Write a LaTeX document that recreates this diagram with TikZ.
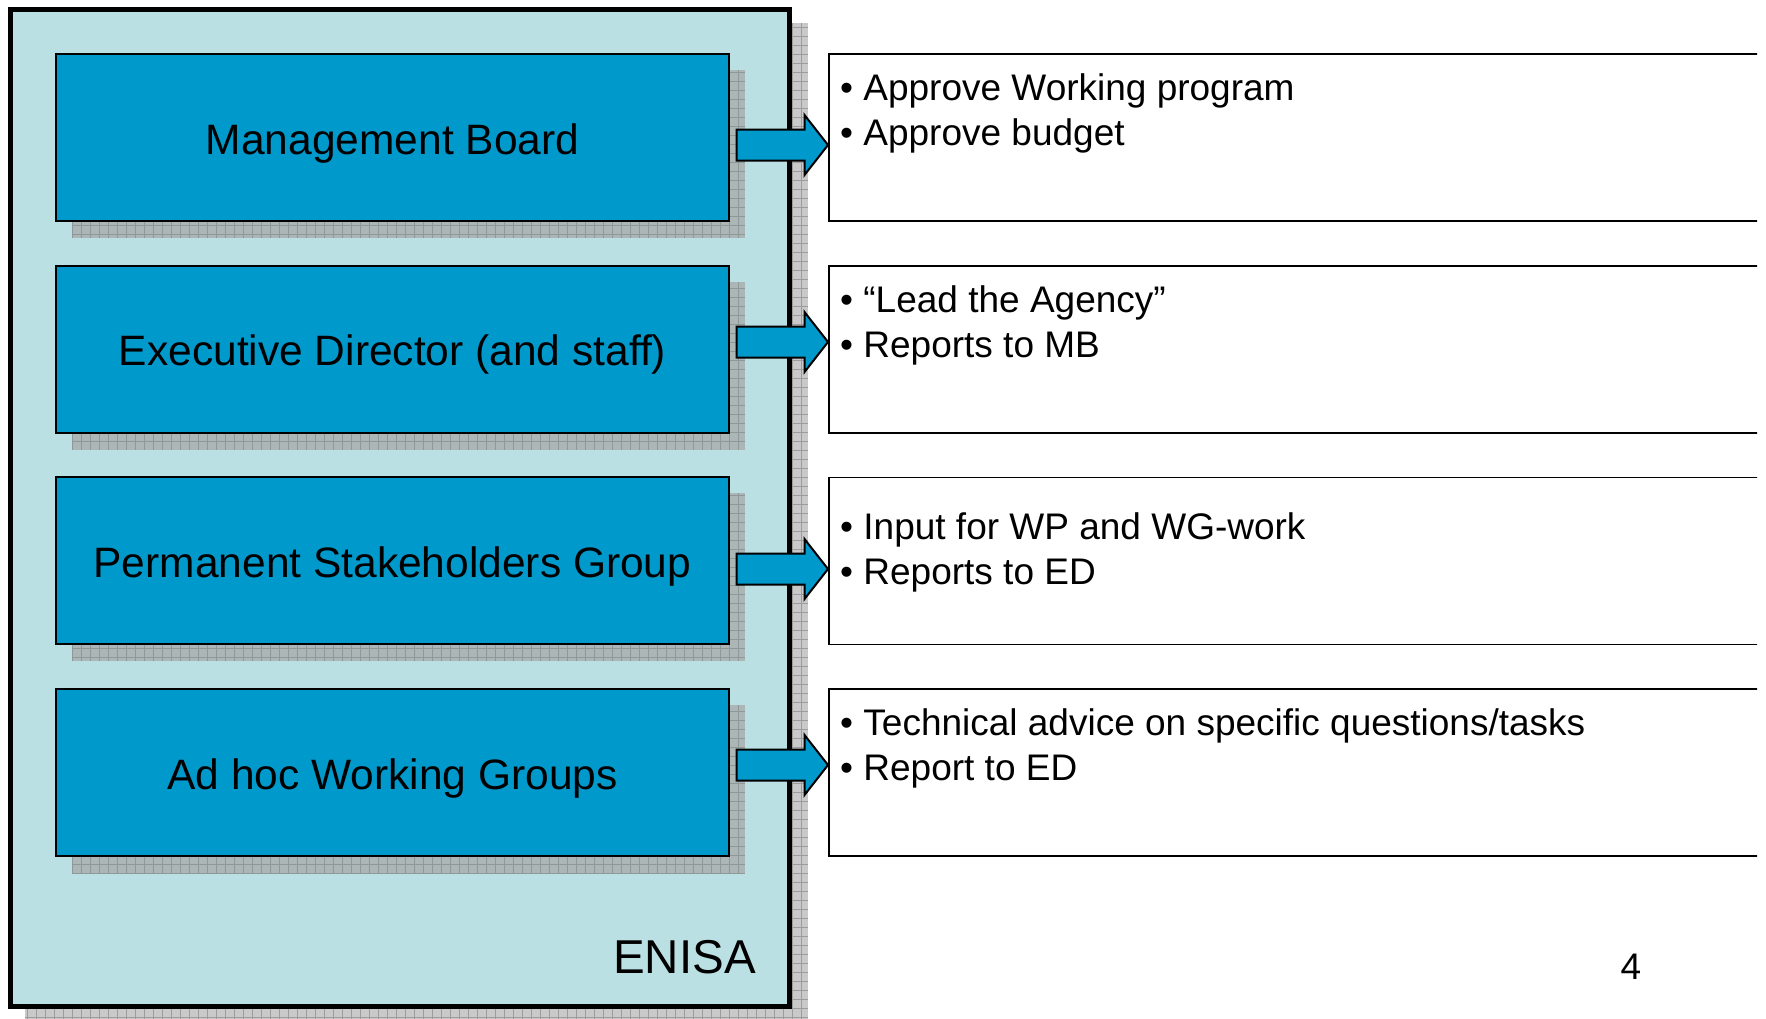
\documentclass[tikz,border=0pt]{standalone}
\usepackage{fontspec}
\setmainfont{Liberation Sans}
\definecolor{boxblue}{HTML}{0099CC}
\definecolor{paleblue}{HTML}{BBE0E3}
\definecolor{shadowA}{HTML}{ADB6B7}
\definecolor{shadowAline}{HTML}{8E9899}
\definecolor{shadowB}{HTML}{C9C9C9}
\definecolor{shadowBline}{HTML}{9C9C9C}
\tikzset{
  rolebox/.style={draw=black, line width=2pt, fill=boxblue, minimum width=673pt, minimum height=167pt, inner sep=0pt, text height=33pt, text depth=0pt, font=\fontsize{42.5}{50}\selectfont},
  infobox/.style={draw=black, line width=1.6pt, fill=white, minimum width=960pt, minimum height=167pt, inner sep=0pt, anchor=west},
  infoline/.style={anchor=base west, inner sep=0pt, font=\fontsize{37}{44}\selectfont},
  bigarrow/.style={draw=black, line width=2pt, fill=boxblue, line join=miter},
}
\begin{document}
\begin{tikzpicture}[x=1pt,y=-1pt]
\useasboundingbox (0,0) rectangle (1766,1018);
\clip (0,0) rectangle (1766,1018);
\fill[white] (0,0) rectangle (1766,1018);
% outer shadow
\fill[shadowB] (25,23) rectangle (808,1030);
\draw[shadowBline, line width=0.7pt, step=9pt] (25,23) grid (808,1030);
% outer ENISA box
\draw[line width=5pt, fill=paleblue] (10.5,9.5) rectangle (789.5,1006.5);
\node[anchor=base east, inner sep=0pt, font=\fontsize{47.5}{56}\selectfont] (enisa) at (756,973) {ENISA};
% inner box shadows
\foreach \yy in {70, 281.7, 493.4, 705.1} {
  \fill[shadowA] (72,\yy) rectangle (745,\yy+168);
  \draw[shadowAline, line width=0.6pt, step=9pt] (72,\yy) grid (745,\yy+168);
}
% role boxes
\node[rolebox] (mb) at (392.5,137.5) {Management Board};
\node[rolebox] (ed) at (392.5,349.2) {Executive Director (and staff)};
\node[rolebox] (psg) at (392.5,560.9) {Permanent Stakeholders Group};
\node[rolebox] (awg) at (392.5,772.6) {Ad hoc Working Groups};
% info boxes (open on the right)
\begin{scope}
\clip (0,0) rectangle (1757,1018);
\node[infobox] (r1) at (828,137.5) {};
\node[infobox] (r2) at (828,349.2) {};
\node[infobox] (r3) at (828,560.9) {};
\node[infobox] (r4) at (828,772.6) {};
\end{scope}
% texts in info boxes
\node[infoline] (r1a) at (840,100) {• Approve Working program};
\node[infoline] (r1b) at (840,145) {• Approve budget};
\node[infoline] (r2a) at (840,312) {• “Lead the Agency”};
\node[infoline] (r2b) at (840,357) {• Reports to MB};
\node[infoline] (r3a) at (840,539.5) {• Input for WP and WG-work};
\node[infoline] (r3b) at (840,584.5) {• Reports to ED};
\node[infoline] (r4a) at (840,735.5) {• Technical advice on specific questions/tasks};
\node[infoline] (r4b) at (840,780.5) {• Report to ED};
% arrows
\coordinate (t1) at (r1.west |- 0,145);
\coordinate (t2) at (r2.west |- 0,342);
\coordinate (t3) at (r3.west |- 0,569);
\coordinate (t4) at (r4.west |- 0,765);
\foreach \t in {t1,t2,t3,t4} {
  \draw[bigarrow] (\t) -- ++(-23.5,-30) -- ++(0,14.5) -- ++(-68,0) -- ++(0,31) -- ++(68,0) -- ++(0,14.5) -- cycle;
}
% page number
\node[anchor=base, inner sep=0pt, font=\fontsize{37}{44}\selectfont] (pnum) at (1631,979) {4};
\end{tikzpicture}
\end{document}
